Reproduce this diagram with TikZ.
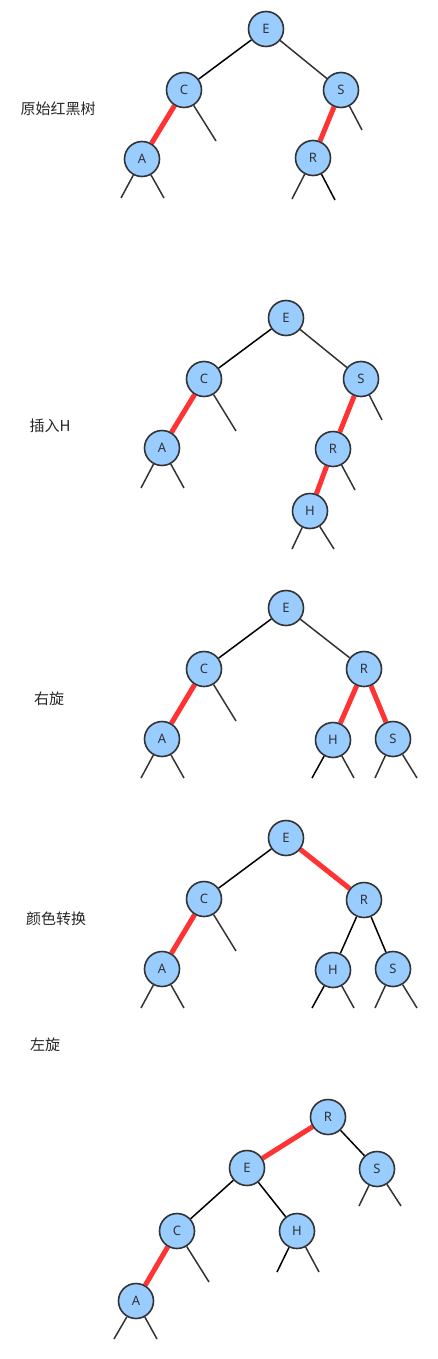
\documentclass[tikz,border=0pt]{standalone}
\usepackage{fontspec}
\setsansfont{Noto Sans}
\newfontfamily\cjk{Noto Sans CJK SC}
\usetikzlibrary{positioning, backgrounds}
\definecolor{nodeblue}{RGB}{153, 204, 255}
\definecolor{linkred}{RGB}{255, 51, 51}
\definecolor{edgegray}{RGB}{51, 51, 51}

\begin{document}
\begin{tikzpicture}[
  x=1pt, y=-1pt,
  rbnode/.style={circle, draw=edgegray, line width=1.6pt, fill=nodeblue,
                 minimum size=35pt, inner sep=0pt, font=\sffamily\fontsize{13}{13}\selectfont, text=edgegray},
  blacklink/.style={line width=1.5pt, black},
  redlink/.style={line width=5pt, linkred},
  nil/.style={line width=1.5pt, edgegray},
  steplabel/.style={font=\cjk\fontsize{15}{15}\selectfont, text=black!85}
]
  \useasboundingbox (0,0) rectangle (438,1359);

  % original tree
  \node[steplabel] (lab1) at (58,109) {原始红黑树};
  \node[rbnode] (e1) at (266,29) {E};
  \node[rbnode] (c1) at (184,90) {C};
  \node[rbnode] (s1) at (341,90) {S};
  \node[rbnode] (a1) at (142,159) {A};
  \node[rbnode] (r1) at (313,158) {R};
  \coordinate (c1r) at (216,141);
  \coordinate (s1r) at (362,130);
  \coordinate (a1l) at (121,198);
  \coordinate (a1r) at (164,198);
  \coordinate (r1l) at (292,199);
  \coordinate (r1r) at (335,200);
  \begin{scope}[on background layer]
    \draw[blacklink] (e1) -- (c1);
    \draw[nil] (e1) -- (s1);
    \draw[redlink] (c1) -- (a1);
    \draw[redlink] (s1) -- (r1);
    \draw[nil] (c1) -- (c1r);
    \draw[nil] (s1) -- (s1r);
    \draw[nil] (a1) -- (a1l);
    \draw[nil] (a1) -- (a1r);
    \draw[nil] (r1) -- (r1l);
    \draw[blacklink] (r1) -- (r1r);
  \end{scope}

  % insert H
  \node[steplabel] (lab2) at (50,426) {插入H};
  \node[rbnode] (e2) at (286,318) {E};
  \node[rbnode] (c2) at (204,379) {C};
  \node[rbnode] (s2) at (361,379) {S};
  \node[rbnode] (a2) at (162,448) {A};
  \node[rbnode] (r2) at (333,449) {R};
  \node[rbnode] (h2) at (310,511) {H};
  \coordinate (c2r) at (236,431);
  \coordinate (s2r) at (382,420);
  \coordinate (a2l) at (141,488);
  \coordinate (a2r) at (184,488);
  \coordinate (r2r) at (355,490);
  \coordinate (h2l) at (292,549);
  \coordinate (h2r) at (334,549);
  \begin{scope}[on background layer]
    \draw[blacklink] (e2) -- (c2);
    \draw[nil] (e2) -- (s2);
    \draw[redlink] (c2) -- (a2);
    \draw[redlink] (s2) -- (r2);
    \draw[redlink] (r2) -- (h2);
    \draw[nil] (c2) -- (c2r);
    \draw[nil] (s2) -- (s2r);
    \draw[nil] (a2) -- (a2l);
    \draw[nil] (a2) -- (a2r);
    \draw[nil] (r2) -- (r2r);
    \draw[nil] (h2) -- (h2l);
    \draw[nil] (h2) -- (h2r);
  \end{scope}

  % right rotation
  \node[steplabel] (lab3) at (49,699) {右旋};
  \node[rbnode] (e3) at (286,608) {E};
  \node[rbnode] (c3) at (204,669) {C};
  \node[rbnode] (r3) at (364,669) {R};
  \node[rbnode] (a3) at (162,739) {A};
  \node[rbnode] (h3) at (333,740) {H};
  \node[rbnode] (s3) at (393,739) {S};
  \coordinate (c3r) at (236,721);
  \coordinate (a3l) at (141,778);
  \coordinate (a3r) at (184,778);
  \coordinate (h3l) at (312,778);
  \coordinate (h3r) at (354,778);
  \coordinate (s3l) at (375,778);
  \coordinate (s3r) at (417,778);
  \begin{scope}[on background layer]
    \draw[blacklink] (e3) -- (c3);
    \draw[nil] (e3) -- (r3);
    \draw[redlink] (c3) -- (a3);
    \draw[redlink] (r3) -- (h3);
    \draw[redlink] (r3) -- (s3);
    \draw[nil] (c3) -- (c3r);
    \draw[nil] (a3) -- (a3l);
    \draw[nil] (a3) -- (a3r);
    \draw[blacklink] (h3) -- (h3l);
    \draw[nil] (h3) -- (h3r);
    \draw[nil] (s3) -- (s3l);
    \draw[nil] (s3) -- (s3r);
  \end{scope}

  % colour flip
  \node[steplabel] (lab4) at (56,919) {颜色转换};
  \node[rbnode] (e4) at (286,838) {E};
  \node[rbnode] (c4) at (204,899) {C};
  \node[rbnode] (r4) at (364,900) {R};
  \node[rbnode] (a4) at (162,969) {A};
  \node[rbnode] (h4) at (333,970) {H};
  \node[rbnode] (s4) at (393,969) {S};
  \coordinate (c4r) at (236,951);
  \coordinate (a4l) at (141,1008);
  \coordinate (a4r) at (184,1008);
  \coordinate (h4l) at (312,1008);
  \coordinate (h4r) at (354,1008);
  \coordinate (s4l) at (375,1008);
  \coordinate (s4r) at (417,1008);
  \begin{scope}[on background layer]
    \draw[blacklink] (e4) -- (c4);
    \draw[redlink] (e4) -- (r4);
    \draw[redlink] (c4) -- (a4);
    \draw[blacklink] (r4) -- (h4);
    \draw[blacklink] (r4) -- (s4);
    \draw[nil] (c4) -- (c4r);
    \draw[nil] (a4) -- (a4l);
    \draw[nil] (a4) -- (a4r);
    \draw[blacklink] (h4) -- (h4l);
    \draw[nil] (h4) -- (h4r);
    \draw[nil] (s4) -- (s4l);
    \draw[nil] (s4) -- (s4r);
  \end{scope}

  % left rotation
  \node[steplabel] (lab5) at (45,1045) {左旋};
  \node[rbnode] (r5) at (328,1117) {R};
  \node[rbnode] (e5) at (247,1168) {E};
  \node[rbnode] (s5) at (377,1169) {S};
  \node[rbnode] (c5) at (177,1231) {C};
  \node[rbnode] (h5) at (297,1231) {H};
  \node[rbnode] (a5) at (136,1301) {A};
  \coordinate (s5l) at (359,1206);
  \coordinate (s5r) at (401,1206);
  \coordinate (c5r) at (209,1282);
  \coordinate (h5l) at (277,1272);
  \coordinate (h5r) at (319,1272);
  \coordinate (a5l) at (114,1339);
  \coordinate (a5r) at (157,1339);
  \begin{scope}[on background layer]
    \draw[redlink] (r5) -- (e5);
    \draw[blacklink] (r5) -- (s5);
    \draw[blacklink] (e5) -- (c5);
    \draw[blacklink] (e5) -- (h5);
    \draw[redlink] (c5) -- (a5);
    \draw[nil] (s5) -- (s5l);
    \draw[nil] (s5) -- (s5r);
    \draw[nil] (c5) -- (c5r);
    \draw[blacklink] (h5) -- (h5l);
    \draw[nil] (h5) -- (h5r);
    \draw[nil] (a5) -- (a5l);
    \draw[nil] (a5) -- (a5r);
  \end{scope}
\end{tikzpicture}
\end{document}
